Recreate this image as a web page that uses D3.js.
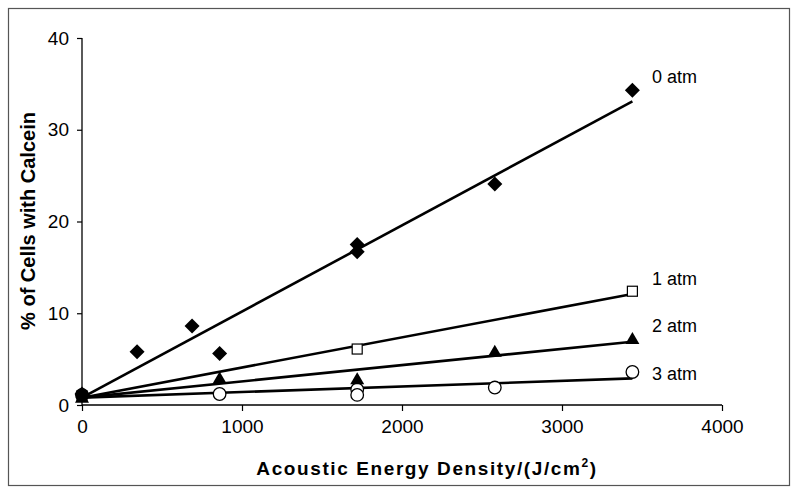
<!DOCTYPE html>
<html><head><meta charset="utf-8">
<script src="https://cdn.jsdelivr.net/npm/d3@7"></script>
<style>body{margin:0;background:#fff}svg{display:block;font-family:"Liberation Sans",Arial,sans-serif}</style>
</head><body><svg id="c" width="800" height="495"></svg>
<script>
// Data
const xTicks = [0, 1000, 2000, 3000, 4000];
const yTicks = [0, 10, 20, 30, 40];
const seriesNames = ["0 atm", "1 atm", "2 atm", "3 atm"];
const x0atm = [0, 344, 688, 860, 1720, 1720, 2580, 3440];
const y0atm = [1.2, 5.8, 8.6, 5.6, 17.5, 16.7, 24.1, 34.3];
const x1atm = [0, 1720, 3440];
const y1atm = [1.0, 6.1, 12.4];
const x2atm = [0, 860, 1720, 2580, 3440];
const y2atm = [0.8, 2.9, 2.8, 5.8, 7.2];
const x3atm = [0, 860, 1720, 1720, 2580, 3440];
const y3atm = [1.1, 1.2, 1.7, 1.1, 1.9, 3.6];
// trendline endpoints [x0, x1], [y0, y1]
const trendX = [0, 3440];
const trend0 = [0.8, 33.1];
const trend1 = [0.8, 12.1];
const trend2 = [0.8, 6.9];
const trend3 = [0.8, 2.9];
const labelY = [35.1, 13.1, 8.0, 2.7];

const svg = d3.select("#c");
const x = d3.scaleLinear().domain([0, 4000]).range([82, 722]);
const y = d3.scaleLinear().domain([0, 40]).range([405, 38]);

svg.append("rect").attr("x", 8.5).attr("y", 8.5).attr("width", 781).attr("height", 477)
  .attr("fill", "#fff").attr("stroke", "#555").attr("stroke-width", 1.2);

const xAxis = svg.append("g").attr("transform", "translate(0,405)")
  .call(d3.axisBottom(x).tickValues(xTicks).tickSize(6).tickPadding(9).tickFormat(d3.format("d")));
const yAxis = svg.append("g").attr("transform", "translate(82,0)")
  .call(d3.axisLeft(y).tickValues(yTicks).tickSize(5).tickPadding(8).tickFormat(d3.format("d")));
[xAxis, yAxis].forEach(g => {
  g.select(".domain").attr("stroke", "#000").attr("stroke-width", 1.3);
  g.selectAll(".tick line").attr("stroke", "#000").attr("stroke-width", 1.2);
  g.selectAll("text").attr("font-size", 19).attr("fill", "#000").attr("font-family", "Liberation Sans, Arial, sans-serif");
});
xAxis.select(".domain").attr("d", `M82,0H722`);
yAxis.select(".domain").attr("d", `M0,38V405`);

// trendlines
[trend0, trend1, trend2, trend3].forEach(t => {
  svg.append("line").attr("x1", x(trendX[0])).attr("y1", y(t[0]))
    .attr("x2", x(trendX[1])).attr("y2", y(t[1]))
    .attr("stroke", "#000").attr("stroke-width", 2.6);
});

// markers
const pts = (xs, ys) => xs.map((v, i) => ({x: v, y: ys[i]}));
svg.append("g").selectAll("circle").data(pts(x3atm, y3atm)).join("circle")
  .attr("cx", d => x(d.x)).attr("cy", d => y(d.y)).attr("r", 6.3)
  .attr("fill", (d, i) => i === 0 ? "#000" : "#fff").attr("stroke", "#000").attr("stroke-width", 1.3);
svg.append("g").selectAll("path").data(pts(x2atm, y2atm)).join("path")
  .attr("transform", d => `translate(${x(d.x)},${y(d.y)})`)
  .attr("d", "M0,-7L7,5L-7,5Z").attr("fill", "#000");
svg.append("g").selectAll("rect").data(pts(x1atm, y1atm)).join("rect")
  .attr("x", d => x(d.x) - 5).attr("y", d => y(d.y) - 5).attr("width", 10).attr("height", 10)
  .attr("fill", (d, i) => i === 0 ? "#000" : "#fff").attr("stroke", "#000").attr("stroke-width", 1.2);
svg.append("g").selectAll("path").data(pts(x0atm, y0atm)).join("path")
  .attr("transform", d => `translate(${x(d.x)},${y(d.y)})`)
  .attr("d", "M0,-7.5L7.5,0L0,7.5L-7.5,0Z").attr("fill", "#000");

// series labels
seriesNames.forEach((n, i) => {
  svg.append("text").attr("x", 652).attr("y", y(labelY[i]))
    .attr("font-size", 18).attr("fill", "#000").text(n);
});

// axis titles
const xt = svg.append("text").attr("x", 427).attr("y", 475).attr("text-anchor", "middle")
  .attr("font-size", 19).attr("font-weight", "bold").attr("fill", "#000").attr("letter-spacing", 1.6);
xt.append("tspan").text("Acoustic Energy Density/(J/cm");
xt.append("tspan").attr("font-size", 12).attr("dy", -8).text("2");
xt.append("tspan").attr("dy", 8).text(")");

svg.append("text").attr("transform", "translate(35,221) rotate(-90)").attr("text-anchor", "middle")
  .attr("font-size", 20).attr("font-weight", "bold").attr("fill", "#000").text("% of Cells with Calcein");
</script></body></html>
